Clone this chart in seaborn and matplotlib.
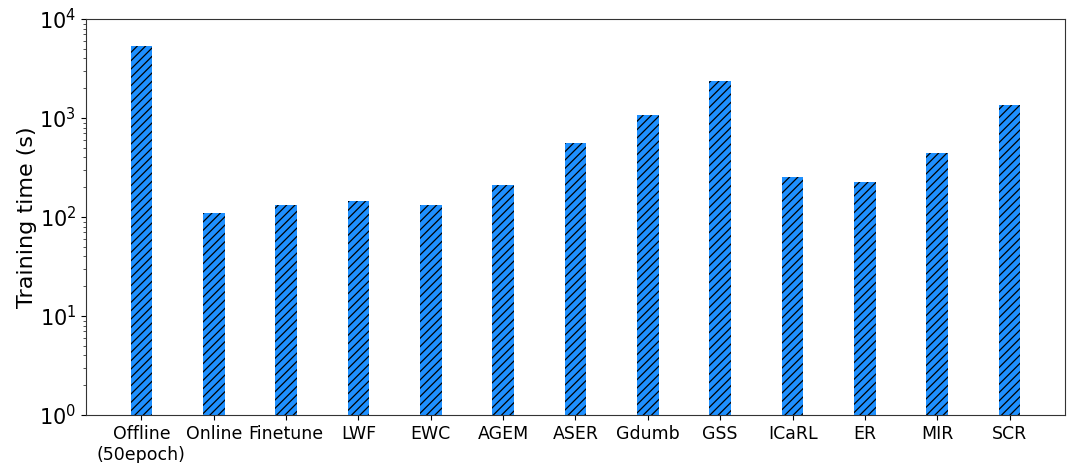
import matplotlib
matplotlib.use("Agg")
import matplotlib.pyplot as plt
import matplotlib.ticker as mticker
import seaborn as sns
import pandas as pd

methods = ["Offline\n(50epoch)", "Online", "Finetune", "LWF", "EWC", "AGEM", "ASER",
           "Gdumb", "GSS", "ICaRL", "ER", "MIR", "SCR"]
train_time = [5340, 110, 132, 145, 132, 210, 559, 1072, 2364, 254, 226, 443, 1353]

plt.rcParams['font.family'] = ['DejaVu Sans']
plt.rcParams['hatch.linewidth'] = 0.9

df = pd.DataFrame({"method": methods, "time": train_time})

fig = plt.figure(figsize=(10.7, 4.63), dpi=100)
ax = fig.add_axes([86/1070, 48/463, (1065-86)/1070, (415-19)/463])
sns.barplot(data=df, x="method", y="time", ax=ax, color="#1E90FF", width=0.3,
            edgecolor="black", linewidth=0, hatch="////", saturation=1)
ax.set_yscale("log")
ax.set_ylim(1, 1e4)
ax.set_xlim(-0.765, 12.765)
ax.yaxis.set_minor_locator(mticker.LogLocator(base=10, subs=range(2, 10), numticks=20))
ax.yaxis.set_minor_formatter(mticker.NullFormatter())
ax.set_xlabel("")
ax.set_ylabel("Training time (s)", fontsize=16, color="black")
ax.yaxis.set_label_coords(-0.050, 0.5)
ax.tick_params(axis="y", labelsize=15, colors="black")
ax.tick_params(axis="y", which="minor", length=2.5, width=0.6, colors="#333333")
ax.tick_params(axis="x", labelsize=12.5, colors="black")
for s in ax.spines.values():
    s.set_color("#333333")
fig.savefig("out.png", dpi=100)
